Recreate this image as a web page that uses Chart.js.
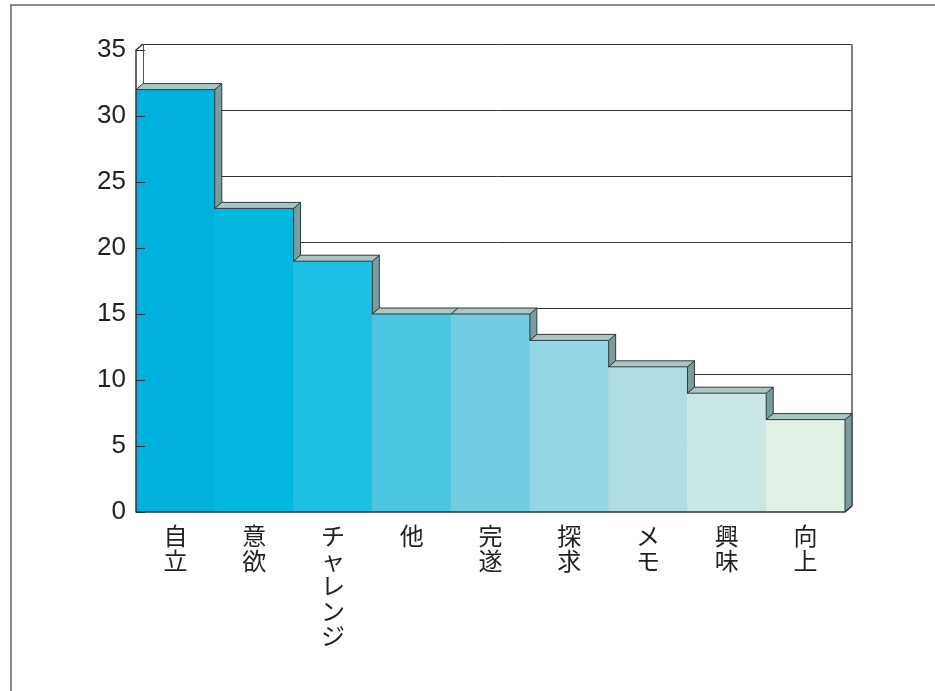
<!DOCTYPE html>
<html>
<head>
<meta charset="utf-8">
<script src="https://cdn.jsdelivr.net/npm/chart.js@4/dist/chart.umd.min.js"></script>
<style>
  html, body { margin: 0; padding: 0; background: #ffffff; }
  #wrap { width: 935px; height: 691px; position: relative; }
</style>
</head>
<body>
<div id="wrap"><canvas id="c" width="935" height="691"></canvas></div>
<script>
// ---- data ----
const categories = ["自立", "意欲", "チャレンジ", "他", "完遂", "探求", "メモ", "興味", "向上"];
const values = [32, 23, 19, 15, 15, 13, 11, 9, 7];
const yTicks = [0, 5, 10, 15, 20, 25, 30, 35];
const barColors = ["#00B0DD", "#02B8E0", "#1EC0E2", "#4CC6E0", "#73CDE0", "#94D7E4", "#AFDDE2", "#CAE7E6", "#E2F1E6"];

const DX = 7, DY = -6;
const TOP_FACE = "#A9C6C3";
const SIDE_FACE = "#7B9B9D";
const EDGE = "#2F3B3D";

const threeD = {
  id: 'threeD',
  beforeDraw(chart) {
    const ctx = chart.ctx;
    ctx.save();
    ctx.strokeStyle = '#8c8c8c';
    ctx.lineWidth = 2;
    ctx.beginPath();
    ctx.moveTo(11, 691);
    ctx.lineTo(11, 5);
    ctx.lineTo(935, 5);
    ctx.stroke();
    ctx.restore();
  },
  beforeDatasetsDraw(chart) {
    const ctx = chart.ctx, ca = chart.chartArea, ys = chart.scales.y;
    ctx.save();
    ctx.lineWidth = 1;
    ctx.strokeStyle = '#333';
    // back gridlines
    yTicks.forEach(v => {
      if (v === 0) return;
      const y = Math.round(ys.getPixelForValue(v) + DY) + 0.5;
      ctx.beginPath();
      ctx.moveTo(ca.left + DX, y);
      ctx.lineTo(ca.right + DX, y);
      ctx.stroke();
    });
    // back wall edges
    const topY = Math.round(ys.getPixelForValue(35) + DY) + 0.5;
    const botY = ys.getPixelForValue(0) + DY;
    ctx.strokeStyle = '#555';
    ctx.beginPath();
    ctx.moveTo(ca.left + DX + 0.5, botY);
    ctx.lineTo(ca.left + DX + 0.5, topY);
    ctx.stroke();
    ctx.lineWidth = 1.5;
    ctx.beginPath();
    ctx.moveTo(ca.right + DX, topY);
    ctx.lineTo(ca.right + DX, botY);
    ctx.stroke();
    ctx.restore();
  },
  afterDatasetsDraw(chart) {
    const ctx = chart.ctx, ca = chart.chartArea, ys = chart.scales.y;
    const meta = chart.getDatasetMeta(0);
    const els = meta.data;
    ctx.save();
    ctx.lineWidth = 1;
    ctx.lineJoin = 'round';
    els.forEach((el, i) => {
      const p = el.getProps(['x', 'y', 'base', 'width'], true);
      const l = p.x - p.width / 2, r = p.x + p.width / 2, t = p.y;
      const nextT = i < els.length - 1 ? els[i + 1].getProps(['y'], true).y : p.base;
      // side face (visible part)
      if (nextT > t) {
        ctx.fillStyle = SIDE_FACE;
        ctx.strokeStyle = EDGE;
        ctx.beginPath();
        ctx.moveTo(r, t);
        ctx.lineTo(r + DX, t + DY);
        ctx.lineTo(r + DX, nextT + DY);
        ctx.lineTo(r, nextT);
        ctx.closePath();
        ctx.fill();
        ctx.stroke();
      }
      // top face
      ctx.fillStyle = TOP_FACE;
      ctx.strokeStyle = EDGE;
      ctx.beginPath();
      ctx.moveTo(l, t);
      ctx.lineTo(r, t);
      ctx.lineTo(r + DX, t + DY);
      ctx.lineTo(l + DX, t + DY);
      ctx.closePath();
      ctx.fill();
      ctx.stroke();
    });
    // front axis frame
    const y0 = ys.getPixelForValue(0), y35 = ys.getPixelForValue(35);
    ctx.strokeStyle = '#333';
    ctx.lineWidth = 1.5;
    ctx.beginPath();
    ctx.moveTo(ca.left + DX, y35 + DY);
    ctx.lineTo(ca.left, y35);
    ctx.lineTo(ca.left, y0);
    ctx.lineTo(ca.right, y0);
    ctx.lineTo(ca.right + DX, y0 + DY);
    ctx.stroke();
    // tick marks
    ctx.lineWidth = 1;
    yTicks.forEach(v => {
      const y = Math.round(ys.getPixelForValue(v)) + 0.5;
      ctx.beginPath();
      ctx.moveTo(ca.left, y);
      ctx.lineTo(ca.left + 9, y);
      ctx.stroke();
    });
    ctx.restore();
  }
};

new Chart(document.getElementById('c'), {
  type: 'bar',
  data: {
    labels: categories.map(s => Array.from(s)),
    datasets: [{
      data: values,
      backgroundColor: barColors,
      borderWidth: 0,
      barPercentage: 1,
      categoryPercentage: 1
    }]
  },
  options: {
    responsive: false,
    animation: false,
    events: [],
    layout: { padding: { left: 0, top: 50, right: 90, bottom: 0 } },
    plugins: { legend: { display: false }, tooltip: { enabled: false } },
    scales: {
      x: {
        grid: { display: false, drawTicks: false },
        border: { display: false },
        ticks: {
          autoSkip: false,
          maxRotation: 0,
          minRotation: 0,
          padding: 11,
          color: '#231F20',
          font: { family: '"Noto Sans CJK JP", sans-serif', size: 24, lineHeight: '25px' }
        },
        afterFit(s) { s.height = 179; }
      },
      y: {
        min: 0,
        max: 35,
        grid: { display: false, drawTicks: false },
        border: { display: false },
        afterBuildTicks(s) { s.ticks = yTicks.map(v => ({ value: v })); },
        ticks: {
          padding: 10,
          color: '#231F20',
          font: { family: '"Liberation Sans", Arial, sans-serif', size: 26 }
        },
        afterFit(s) { s.width = 136; }
      }
    }
  },
  plugins: [threeD]
});
</script>
</body>
</html>
